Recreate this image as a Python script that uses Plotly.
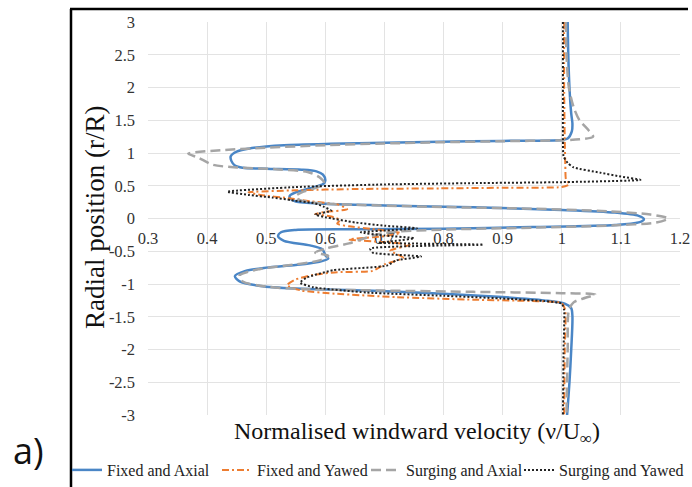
import plotly.graph_objects as go

# ---------------- data ----------------
series_names = ["Fixed and Axial", "Fixed and Yawed", "Surging and Axial", "Surging and Yawed"]

fixed_axial_v = [1.010, 1.011, 1.013, 1.016, 1.018, 1.017, 1.010, 1.000, 0.900, 0.794, 0.700, 0.610, 0.530,
                 0.500, 0.470, 0.450, 0.440, 0.441, 0.447, 0.460, 0.500, 0.560, 0.585, 0.596, 0.600, 0.597,
                 0.570, 0.550, 0.540, 0.540, 0.550, 0.600, 0.700, 0.850, 1.000, 1.090, 1.130, 1.139, 1.130,
                 1.090, 0.950, 0.800, 0.650, 0.550, 0.525, 0.520, 0.530, 0.574, 0.595, 0.600, 0.605, 0.590,
                 0.550, 0.500, 0.465, 0.447, 0.455, 0.490, 0.550, 0.670, 0.800, 0.900, 0.970, 1.005, 1.016,
                 1.018, 1.016, 1.013, 1.009]
fixed_axial_r = [3.00, 2.50, 2.00, 1.60, 1.45, 1.33, 1.22, 1.20, 1.185, 1.17, 1.155, 1.14, 1.12,
                 1.10, 1.065, 1.02, 0.95, 0.88, 0.81, 0.775, 0.76, 0.745, 0.72, 0.67, 0.58, 0.53,
                 0.45, 0.40, 0.35, 0.31, 0.26, 0.225, 0.20, 0.17, 0.13, 0.09, 0.04, -0.01, -0.06,
                 -0.10, -0.13, -0.155, -0.165, -0.175, -0.21, -0.27, -0.34, -0.41, -0.47, -0.56, -0.61, -0.66,
                 -0.71, -0.75, -0.80, -0.88, -0.96, -1.03, -1.07, -1.10, -1.15, -1.20, -1.25, -1.30, -1.37,
                 -1.50, -2.00, -2.50, -3.00]

fixed_yawed_v = [1.004, 1.004, 1.005, 1.006, 1.007, 1.013, 1.000, 0.900, 0.794, 0.650, 0.550, 0.470, 0.490,
                 0.537, 0.577, 0.623, 0.637, 0.600, 0.583, 0.610, 0.625, 0.620, 0.640, 0.680, 0.727, 0.700,
                 0.640, 0.700, 0.743, 0.710, 0.732, 0.700, 0.680, 0.620, 0.580, 0.550, 0.535, 0.560, 0.620,
                 0.720, 0.850, 0.950, 1.000, 1.006, 1.005, 1.004]
fixed_yawed_r = [3.00, 2.00, 1.20, 0.80, 0.60, 0.52, 0.48, 0.47, 0.46, 0.45, 0.43, 0.40, 0.36,
                 0.31, 0.26, 0.21, 0.14, 0.10, 0.07, 0.03, -0.02, -0.08, -0.12, -0.16, -0.22, -0.27,
                 -0.32, -0.36, -0.40, -0.49, -0.60, -0.70, -0.80, -0.82, -0.86, -0.93, -1.02, -1.10, -1.15,
                 -1.20, -1.24, -1.26, -1.29, -1.40, -2.00, -3.00]

surging_axial_v = [1.007, 1.008, 1.012, 1.020, 1.030, 1.045, 1.053, 1.030, 1.000, 0.900, 0.800, 0.700, 0.600,
                   0.500, 0.430, 0.368, 0.385, 0.410, 0.450, 0.520, 0.570, 0.590, 0.598, 0.585, 0.560, 0.550,
                   0.555, 0.580, 0.650, 0.800, 0.950, 1.080, 1.150, 1.180, 1.160, 1.100, 0.950, 0.800, 0.700,
                   0.660, 0.640, 0.600, 0.583, 0.605, 0.590, 0.550, 0.490, 0.455, 0.460, 0.500, 0.560, 0.700,
                   0.850, 1.000, 1.057, 1.040, 1.020, 1.012, 1.010, 1.008]
surging_axial_r = [3.00, 2.50, 2.00, 1.70, 1.50, 1.35, 1.25, 1.21, 1.195, 1.18, 1.165, 1.145, 1.12,
                   1.08, 1.045, 0.99, 0.93, 0.82, 0.78, 0.75, 0.71, 0.63, 0.54, 0.47, 0.40, 0.34,
                   0.29, 0.24, 0.21, 0.175, 0.15, 0.11, 0.06, 0.00, -0.06, -0.10, -0.14, -0.17, -0.22,
                   -0.32, -0.38, -0.46, -0.52, -0.57, -0.64, -0.70, -0.77, -0.87, -0.96, -1.04, -1.075, -1.10,
                   -1.12, -1.14, -1.16, -1.21, -1.28, -1.40, -2.00, -3.00]

surging_yawed_v = [1.002, 1.002, 1.002, 1.003, 1.010, 1.020, 1.065, 1.100, 1.133, 1.000, 0.850, 0.700, 0.550,
                   0.434, 0.470, 0.510, 0.543, 0.583, 0.597, 0.610, 0.583, 0.600, 0.650, 0.700, 0.755, 0.660,
                   0.700, 0.750, 0.720, 0.690, 0.867, 0.676, 0.680, 0.762, 0.720, 0.704, 0.613, 0.569, 0.557,
                   0.580, 0.670, 0.800, 0.896, 0.970, 1.000, 1.004, 1.003, 1.002]
surging_yawed_r = [3.00, 2.00, 1.20, 0.95, 0.85, 0.78, 0.70, 0.64, 0.59, 0.555, 0.54, 0.52, 0.48,
                   0.41, 0.36, 0.32, 0.28, 0.23, 0.18, 0.12, 0.06, 0.02, -0.06, -0.11, -0.15, -0.21,
                   -0.26, -0.30, -0.34, -0.37, -0.40, -0.46, -0.52, -0.58, -0.64, -0.72, -0.79, -0.90, -0.98,
                   -1.05, -1.13, -1.18, -1.22, -1.26, -1.30, -1.40, -2.00, -3.00]

x_tick_vals = [0.3, 0.4, 0.5, 0.6, 0.7, 0.8, 0.9, 1.0, 1.1, 1.2]
x_tick_text = ["0.3", "0.4", "0.5", "0.6", "0.7", "0.8", "0.9", "1", "1.1", "1.2"]
y_tick_vals = [3, 2.5, 2, 1.5, 1, 0.5, 0, -0.5, -1, -1.5, -2, -2.5, -3]
y_tick_text = ["3", "2.5", "2", "1.5", "1", "0.5", "0", "-0.5", "-1", "-1.5", "-2", "-2.5", "-3"]

# ---------------- figure ----------------
W, H = 692, 487
SERIF = "Liberation Serif"

fig = go.Figure()
fig.add_trace(go.Scatter(x=fixed_axial_v, y=fixed_axial_r, mode="lines", name=series_names[0],
                         legend="legend",
                         line=dict(color="#4a86c6", width=2.5, shape="spline", smoothing=0.8)))
fig.add_trace(go.Scatter(x=fixed_yawed_v, y=fixed_yawed_r, mode="lines", name=series_names[1],
                         legend="legend2",
                         line=dict(color="#ED7D31", width=2, dash="7px,3px,2px,3px",
                                   shape="spline", smoothing=0.5)))
fig.add_trace(go.Scatter(x=surging_axial_v, y=surging_axial_r, mode="lines", name=series_names[2],
                         legend="legend3",
                         line=dict(color="#A5A5A5", width=2.5, dash="10px,5px",
                                   shape="spline", smoothing=0.8)))
fig.add_trace(go.Scatter(x=surging_yawed_v, y=surging_yawed_r, mode="lines", name=series_names[3],
                         legend="legend4",
                         line=dict(color="#222222", width=2, dash="2px,2px",
                                   shape="spline", smoothing=0.5)))

def px_x(p):
    return p / W

def px_y(p):
    return (H - p) / H

def legend_at(left_px):
    return dict(orientation="h", x=px_x(left_px), y=px_y(470), xanchor="left", yanchor="middle",
                font=dict(family=SERIF, size=16, color="#222222"), bgcolor="rgba(0,0,0,0)",
                itemwidth=30)

y_dom = [px_y(415), px_y(22)]
fig.update_layout(
    width=W, height=H,
    margin=dict(l=0, r=0, t=0, b=0, autoexpand=False),
    paper_bgcolor="white", plot_bgcolor="white",
    font=dict(family=SERIF, size=16, color="#222222"),
    xaxis=dict(domain=[px_x(148), px_x(680)], range=[0.3, 1.2], anchor="free",
               position=(y_dom[0] + y_dom[1]) / 2,
               tickvals=x_tick_vals, ticktext=x_tick_text, showgrid=True, gridcolor="#e3e3e3",
               gridwidth=1, zeroline=False, showline=False, ticks="", layer="below traces",
               ticklabelstandoff=8, automargin=False,
               tickfont=dict(family=SERIF, size=16.5, color="#333333")),
    yaxis=dict(domain=y_dom, range=[-3, 3], tickvals=y_tick_vals, ticktext=y_tick_text,
               showgrid=True, gridcolor="#e3e3e3", gridwidth=1, zeroline=False, showline=False,
               ticks="", ticklabelstandoff=12, automargin=False,
               tickfont=dict(family=SERIF, size=16.5, color="#333333")),
    showlegend=True,
    legend=legend_at(67),
    legend2=legend_at(217),
    legend3=legend_at(366),
    legend4=legend_at(519),
    shapes=[
        dict(type="line", xref="paper", yref="paper", x0=px_x(71), x1=px_x(71), y0=px_y(9), y1=0,
             line=dict(color="black", width=2.5)),
        dict(type="line", xref="paper", yref="paper", x0=px_x(70), x1=px_x(688), y0=px_y(9), y1=px_y(9),
             line=dict(color="black", width=2.5)),
    ],
    annotations=[
        dict(text="Radial position (r/R)", xref="paper", yref="paper", x=px_x(95), y=px_y(218),
             textangle=-90, showarrow=False, xanchor="center", yanchor="middle",
             font=dict(family=SERIF, size=27, color="#111111")),
        dict(text="Normalised windward velocity (ν/U<sub>∞</sub>)", xref="paper", yref="paper",
             x=px_x(417), y=px_y(433), showarrow=False, xanchor="center", yanchor="middle",
             font=dict(family=SERIF, size=24, color="#111111")),
        dict(text="a)", xref="paper", yref="paper", x=px_x(28), y=px_y(450), showarrow=False,
             xanchor="center", yanchor="middle",
             font=dict(family="Open Sans", size=36, color="#111111")),
    ],
)

fig.write_html("out.html")
